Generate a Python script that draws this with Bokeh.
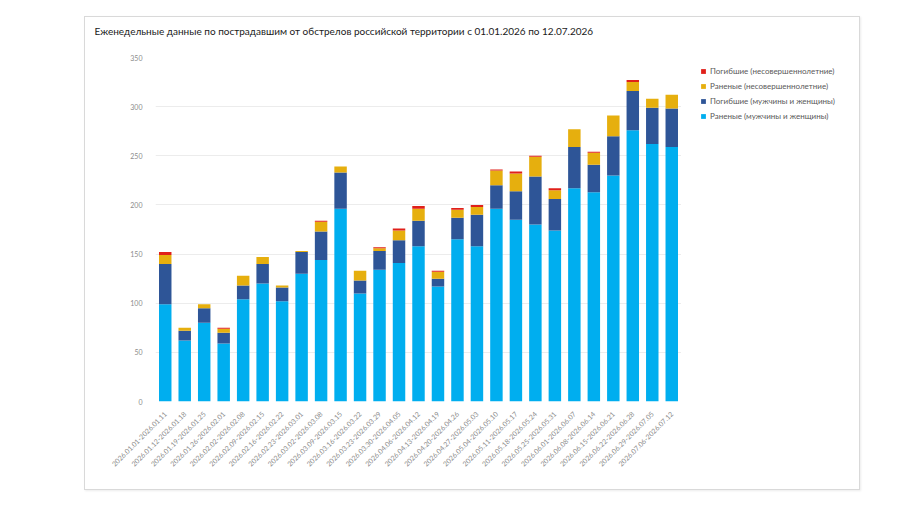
from math import pi
from bokeh.plotting import figure
from bokeh.models import (Legend, LegendItem, FactorRange, Range1d, FixedTicker,
                          ColumnDataSource, Title)
from bokeh.layouts import row
from bokeh.embed import file_html
from bokeh.resources import INLINE

title_text = "Еженедельные данные по пострадавшим от обстрелов российской территории с 01.01.2026 по 12.07.2026"

weeks = [
    "2026.01.01-2026.01.11", "2026.01.12-2026.01.18", "2026.01.19-2026.01.25",
    "2026.01.26-2026.02.01", "2026.02.02-2026.02.08", "2026.02.09-2026.02.15",
    "2026.02.16-2026.02.22", "2026.02.23-2026.03.01", "2026.03.02-2026.03.08",
    "2026.03.09-2026.03.15", "2026.03.16-2026.03.22", "2026.03.23-2026.03.29",
    "2026.03.30-2026.04.05", "2026.04.06-2026.04.12", "2026.04.13-2026.04.19",
    "2026.04.20-2026.04.26", "2026.04.27-2026.05.03", "2026.05.04-2026.05.10",
    "2026.05.11-2026.05.17", "2026.05.18-2026.05.24", "2026.05.25-2026.05.31",
    "2026.06.01-2026.06.07", "2026.06.08-2026.06.14", "2026.06.15-2026.06.21",
    "2026.06.22-2026.06.28", "2026.06.29-2026.07.05", "2026.07.06-2026.07.12",
]

wounded_adults = [99, 62, 80, 59, 104, 120, 102, 130, 144, 196, 110, 134, 141, 158, 117,
                  165, 158, 196, 185, 180, 174, 217, 213, 230, 276, 262, 259]
killed_adults = [41, 10, 15, 11, 14, 20, 14, 22, 29, 37, 13, 19, 23, 26, 8,
                 22, 32, 24, 29, 49, 32, 42, 28, 40, 40, 37, 39]
wounded_minors = [9, 3, 4, 4, 10, 7, 2, 1, 10, 6, 10, 3, 10, 12, 7,
                  8, 8, 15, 18, 20, 9, 18, 12, 21, 9, 9, 14]
killed_minors = [3, 0, 0, 1, 0, 0, 0, 0, 1, 0, 0, 1, 2, 3, 1,
                 2, 2, 1, 2, 1, 2, 0, 1, 0, 2, 0, 0]

series_names = ["Раненые (мужчины и женщины)", "Погибшие (мужчины и женщины)",
                "Раненые (несовершеннолетние)", "Погибшие (несовершеннолетние)"]
series_keys = ["wa", "ka", "wm", "km"]
colors = ["#00AEEF", "#2E5597", "#E6AF0E", "#E0201A"]
y_ticks = [0, 50, 100, 150, 200, 250, 300, 350]

source = ColumnDataSource(dict(week=weeks, wa=wounded_adults, ka=killed_adults,
                               wm=wounded_minors, km=killed_minors))

p = figure(frame_width=526, frame_height=344, output_backend="svg", toolbar_location=None,
           x_range=FactorRange(factors=weeks, range_padding=0),
           y_range=Range1d(0, 350),
           min_border_left=70, min_border_right=0, min_border_top=40, min_border_bottom=88)
p.title = None
p.outline_line_color = None
p.background_fill_color = "white"
p.border_fill_color = "white"

p.vbar_stack(series_keys, x="week", width=0.64, color=colors, source=source, line_color=None)

# blank spacer between frame and title, then the title itself
p.add_layout(Title(text=" ", text_font_size="10px", standoff=6), "above")
p.add_layout(Title(text=title_text, align="left", offset=-61, text_font="Lato",
                   text_font_size="10px", text_font_style="normal", text_color="#1a1a1a",
                   standoff=4), "above")

p.xgrid.grid_line_color = None
p.ygrid.grid_line_color = "#ececec"
p.ygrid.grid_line_width = 1
p.yaxis.ticker = FixedTicker(ticks=y_ticks)
p.yaxis.axis_line_color = None
p.yaxis.major_tick_line_color = None
p.yaxis.minor_tick_line_color = None
p.yaxis.major_label_text_font = "Lato"
p.yaxis.major_label_text_font_size = "7px"
p.yaxis.major_label_text_color = "#8c8c8c"
p.yaxis.major_label_standoff = 7

p.xaxis.axis_line_color = None
p.xaxis.major_tick_line_color = None
p.xaxis.minor_tick_line_color = None
p.xaxis.major_label_orientation = pi / 4
p.xaxis.major_label_text_font = "Lato"
p.xaxis.major_label_text_font_size = "7px"
p.xaxis.major_label_text_color = "#8c8c8c"
p.xaxis.major_label_standoff = 5

# legend panel to the right of the plot frame; its own zero-width copy of the
# stacked series lies outside its visible y-range, so only the legend entries show
q = figure(frame_width=168, frame_height=344, output_backend="svg", toolbar_location=None,
           x_range=FactorRange(factors=weeks, range_padding=0), y_range=Range1d(-2, -1),
           x_axis_type=None, y_axis_type=None, min_border_left=10, min_border_top=40,
           min_border_right=0, min_border_bottom=88)
q.title = None
q.outline_line_color = None
q.background_fill_color = "white"
q.border_fill_color = "white"
legend_glyphs = q.vbar_stack(series_keys, x="week", width=0, color=colors, source=source,
                             line_color=None)

items = [LegendItem(label=series_names[i], renderers=[legend_glyphs[i]]) for i in [3, 2, 1, 0]]
legend = Legend(items=items, location="top_left", border_line_color=None,
                background_fill_alpha=0, label_text_font="Lato", label_text_font_size="8px",
                label_text_color="#595959", glyph_width=6, glyph_height=6,
                label_height=10, spacing=5, padding=9, margin=9, label_standoff=4)
q.add_layout(legend, "center")

layout = row(p, q)
layout.margin = (16, 0, 0, 84)
layout.styles = {"border": "1px solid #d9d9d9", "box-shadow": "1px 1px 2px rgba(0,0,0,0.08)"}

open("out.html", "w").write(file_html(layout, INLINE))
